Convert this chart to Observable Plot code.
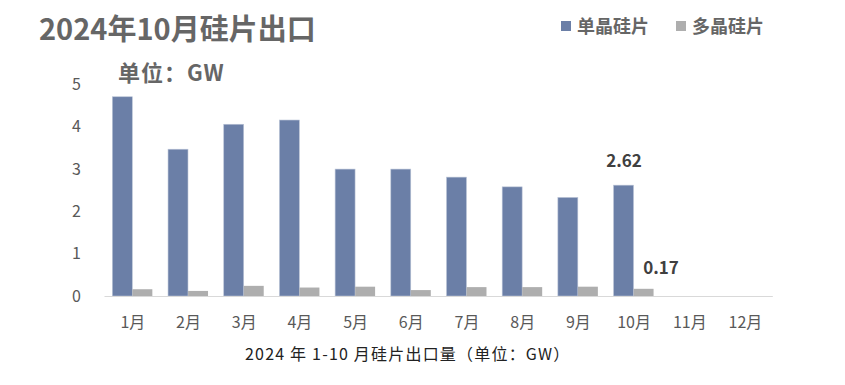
<!DOCTYPE html>
<html>
<head>
<meta charset="utf-8">
<script src="https://cdn.jsdelivr.net/npm/d3@7"></script>
<script src="https://cdn.jsdelivr.net/npm/@observablehq/plot@0.6"></script>
<style>
  html, body { margin: 0; padding: 0; background: #fff; }
  body { font-family: "Noto Sans CJK SC", "Noto Sans", sans-serif; }
  #wrap { position: relative; width: 845px; height: 385px; overflow: hidden; }
  #chart { position: absolute; left: 0; top: 0; }
  .abs { position: absolute; white-space: nowrap; line-height: 1.2; }
  #title { left: 39px; top: 10px; font-size: 29px; font-weight: bold; color: #666666; letter-spacing: 0px; }
  #unit { left: 118px; top: 58px; font-size: 22px; font-weight: bold; color: #666666; letter-spacing: 1px; }
  #legend { left: 561px; top: 15px; font-size: 18px; font-weight: bold; color: #666666; display: flex; align-items: center; }
  #legend .sw { display: inline-block; width: 10px; height: 10px; margin-right: 6px; }
  #legend .item { display: flex; align-items: center; margin-right: 27px; }
  #caption { left: 245px; top: 344px; font-size: 16px; color: #222222; letter-spacing: 1.2px; }
</style>
</head>
<body>
<div id="wrap">
  <div id="chart"></div>
  <div id="title" class="abs">2024年10月硅片出口</div>
  <div id="unit" class="abs">单位：GW</div>
  <div id="legend" class="abs"></div>
  <div id="caption" class="abs">2024 年 1-10 月硅片出口量（单位：GW）</div>
</div>
<script>
const months = ["1月","2月","3月","4月","5月","6月","7月","8月","9月","10月","11月","12月"];
const seriesNames = ["单晶硅片","多晶硅片"];
const seriesColors = ["#6B7FA7","#AEAEAE"];
const mono = [4.71, 3.47, 4.06, 4.16, 3.00, 3.00, 2.81, 2.58, 2.33, 2.62];
const multi = [0.16, 0.12, 0.24, 0.20, 0.22, 0.14, 0.21, 0.21, 0.22, 0.17];
const yTicks = [0, 1, 2, 3, 4, 5];
const labels = [
  {month: "10月", value: 2.62, text: "2.62", series: "单晶硅片"},
  {month: "10月", value: 0.17, text: "0.17", series: "多晶硅片"}
];

const monoData = mono.map((v, i) => ({month: months[i], value: v}));
const multiData = multi.map((v, i) => ({month: months[i], value: v}));

const plot = Plot.plot({
  width: 845,
  height: 385,
  marginLeft: 104.5,
  marginRight: 72.2,
  marginTop: 84.5,
  marginBottom: 89,
  style: {fontFamily: '"Noto Sans CJK SC", "Noto Sans", sans-serif', background: "transparent"},
  x: {domain: months, paddingInner: 0.282, paddingOuter: 0.141, round: false},
  y: {domain: [0, 5]},
  marks: [
    Plot.barY(monoData, {x: "month", y: "value", fill: seriesColors[0], insetRight: 20.05, stroke: "#b9c3d6", strokeWidth: 0.6}),
    Plot.barY(multiData, {x: "month", y: "value", fill: seriesColors[1], insetLeft: 20.05}),
    Plot.ruleY([0], {stroke: "#D9D9D9", strokeWidth: 1.2}),
    Plot.axisY(yTicks, {tickSize: 0, tickPadding: 24, fontSize: 16, fill: "#595959", label: null}),
    Plot.axisX({tickSize: 0, tickPadding: 20, fontSize: 16, fill: "#595959", label: null}),
    Plot.text(labels.filter(d => d.series === "单晶硅片"), {x: "month", y: "value", text: "text", dx: -10, dy: -24, fontSize: 17, fontWeight: "bold", fill: "#404040"}),
    Plot.text(labels.filter(d => d.series === "多晶硅片"), {x: "month", y: "value", text: "text", dx: 27, dy: -21, fontSize: 17, fontWeight: "bold", fill: "#404040"})
  ]
});
document.getElementById("chart").appendChild(plot);

const legend = document.getElementById("legend");
seriesNames.forEach((name, i) => {
  const item = document.createElement("span");
  item.className = "item";
  const sw = document.createElement("span");
  sw.className = "sw";
  sw.style.background = seriesColors[i];
  item.appendChild(sw);
  item.appendChild(document.createTextNode(name));
  legend.appendChild(item);
});
</script>
</body>
</html>
